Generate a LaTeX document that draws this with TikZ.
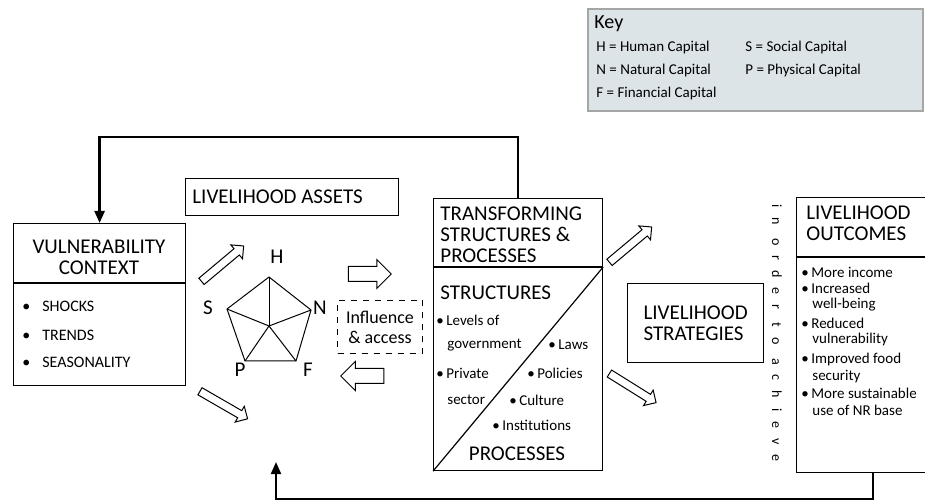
\documentclass[tikz,border=0pt]{standalone}
\usepackage{fontspec}
\setmainfont{Carlito}
\usetikzlibrary{positioning,shapes.arrows,arrows.meta,calc}
\definecolor{keyfill}{HTML}{DCE4E8}

\begin{document}
\begin{tikzpicture}[x=0.5pt,y=-0.5pt,
  box/.style={draw, line width=0.6pt, anchor=north west, inner sep=0pt},
  title/.style={font=\fontsize{10.5}{10.5}\selectfont, align=left, inner sep=0pt},
  item/.style={font=\fontsize{8}{8.5}\selectfont, anchor=west, inner sep=0pt},
  small/.style={font=\fontsize{7.5}{8.5}\selectfont, anchor=west, inner sep=0pt},
  corner/.style={font=\fontsize{10.5}{10.5}\selectfont, inner sep=0pt},
  fat/.style={single arrow, draw, line width=0.5pt, fill=white, inner sep=3.5pt,
              minimum height=21.5pt, minimum width=14pt, single arrow head extend=3.5pt},
  thin arrow/.style={fat, inner sep=1.8pt, minimum height=27.5pt, minimum width=8.5pt, single arrow head extend=2.5pt},
  fb/.style={line width=1pt, -{Triangle[length=6pt,width=5pt]}}
]
\fill[white] (0,0) rectangle (925,501);
\useasboundingbox (0,0) rectangle (925,501);

% key
\node[box, fill=keyfill, draw=gray!70, line width=0.8pt, minimum width=167.5pt, minimum height=51pt] (key) at (587,8) {};
\node[font=\fontsize{10}{10}\selectfont, anchor=west, inner sep=0pt] (keyt) at (594,24) {Key};
\node[small] (kh) at (596,48) {H = Human Capital};
\node[small] (kn) at (596,71) {N = Natural Capital};
\node[small] (kf) at (596,94) {F = Financial Capital};
\node[small] (ks) at (745,48) {S = Social Capital};
\node[small] (kp) at (745,71) {P = Physical Capital};

% vulnerability context
\node[box, minimum width=86pt, minimum height=81pt] (vc) at (13,223) {};
\coordinate (vcd) at (0,283);
\draw[line width=0.6pt] (vc.west |- vcd) -- (vc.east |- vcd);
\node[title, align=center] (vct) at (99,257) {VULNERABILITY\\CONTEXT};
\node[item] (sh) at (22,306) {\textbullet\hspace{6pt}SHOCKS};
\node[item] (tr) at (22,335) {\textbullet\hspace{6pt}TRENDS};
\node[item] (se) at (22,362) {\textbullet\hspace{6pt}SEASONALITY};

% livelihood assets
\node[box, minimum width=106.5pt, minimum height=18.5pt] (la) at (185,178) {};
\node[title, anchor=west] (lat) at (192,197) {LIVELIHOOD ASSETS};
\coordinate (ph) at (269,277);
\coordinate (pn) at (311,310);
\coordinate (pf) at (296,361);
\coordinate (pp) at (245,361);
\coordinate (ps) at (227,309);
\coordinate (pc) at (269,326);
\draw[line width=0.5pt] (ph) -- (pn) -- (pf) -- (pp) -- (ps) -- cycle;
\foreach \v in {ph,pn,pf,pp,ps}
  \draw[line width=0.5pt] (pc) -- (\v);
\node[corner] (lh) at (277,257) {H};
\node[corner] (ln) at (320,308) {N};
\node[corner] (lf) at (308,370) {F};
\node[corner] (lp) at (240,370) {P};
\node[corner] (ls) at (208,308) {S};

\node[draw, dashed, line width=0.7pt, minimum width=42.5pt, minimum height=26.5pt, inner sep=0pt,
      align=center, font=\fontsize{9}{10}\selectfont] (infl) at (380,327) {Influence\\\& access};

\node[fat] (ar1) at (366,274) {};
\node[fat, rotate=180] (ar2) at (366,376) {};
\node[thin arrow, rotate=40] (ad1) at (221,265) {};
\node[thin arrow, rotate=-30] (ad2) at (222,404) {};

% transforming structures
\node[box, minimum width=84.5pt, minimum height=136pt] (ts) at (433,198) {};
\coordinate (tsd) at (0,267);
\draw[line width=0.6pt] (ts.west |- tsd) -- (ts.east |- tsd);
\draw[line width=0.6pt] (ts.south west) -- (ts.east |- tsd);
\node[title, anchor=north west] (tst) at (440,206) {TRANSFORMING\\STRUCTURES \&\\PROCESSES};
\node[title, anchor=west] (st) at (440,293) {STRUCTURES};
\node[title] (pr) at (517,454) {PROCESSES};
\node[small] (s1) at (436,320) {\textbullet\,Levels of};
\node[small] (s1b) at (447,345) {government};
\node[small] (s2) at (436,373) {\textbullet\,Private};
\node[small] (s2b) at (447,400) {sector};
\node[small] (p1) at (548,345) {\textbullet\,Laws};
\node[small] (p2) at (527,373) {\textbullet\,Policies};
\node[small] (p3) at (509,400) {\textbullet\,Culture};
\node[small] (p4) at (492,425) {\textbullet\,Institutions};

\node[thin arrow, rotate=40] (ad3) at (629,246) {};
\node[thin arrow, rotate=-32] (ad4) at (631,387) {};

% strategies and outcomes
\node[box, minimum width=68pt, minimum height=39.5pt] (lstr) at (627,283) {};
\node[title] (lstrt) at (lstr.center) {LIVELIHOOD\\STRATEGIES};

\node[rotate=-90, inner sep=0pt, font=\fontsize{7}{7}\selectfont\addfontfeature{LetterSpace=72}] (iota) at (777,333) {in order to achieve};

\node[box, minimum width=90pt, minimum height=137.5pt] (lo) at (796,197) {};
\coordinate (lod) at (0,257);
\coordinate (lox) at (873,0);
\draw[line width=0.6pt] (lo.west |- lod) -- (lo.east |- lod);
\node[title, anchor=north west] (lot) at (806,205) {LIVELIHOOD\\OUTCOMES};
\node[small] (o1) at (801,272) {\textbullet\,More income};
\node[small] (o2) at (801,288) {\textbullet\,Increased};
\node[small] (o2b) at (812,305) {well-being};
\node[small] (o3) at (801,323) {\textbullet\,Reduced};
\node[small] (o3b) at (812,340) {vulnerability};
\node[small] (o4) at (801,360) {\textbullet\,Improved food};
\node[small] (o4b) at (812,377) {security};
\node[small] (o5) at (801,393) {\textbullet\,More sustainable};
\node[small] (o5b) at (812,410) {use of NR base};

% feedback
\coordinate (top) at (300,137);
\coordinate (bot) at (600,499);
\coordinate (fbin) at (276,462);
\draw[fb, line width=1.2pt] (ts.north) |- (top) -| (vc.north);
\draw[fb] (lox |- lo.south) |- (bot) -| (fbin);
\end{tikzpicture}
\end{document}
